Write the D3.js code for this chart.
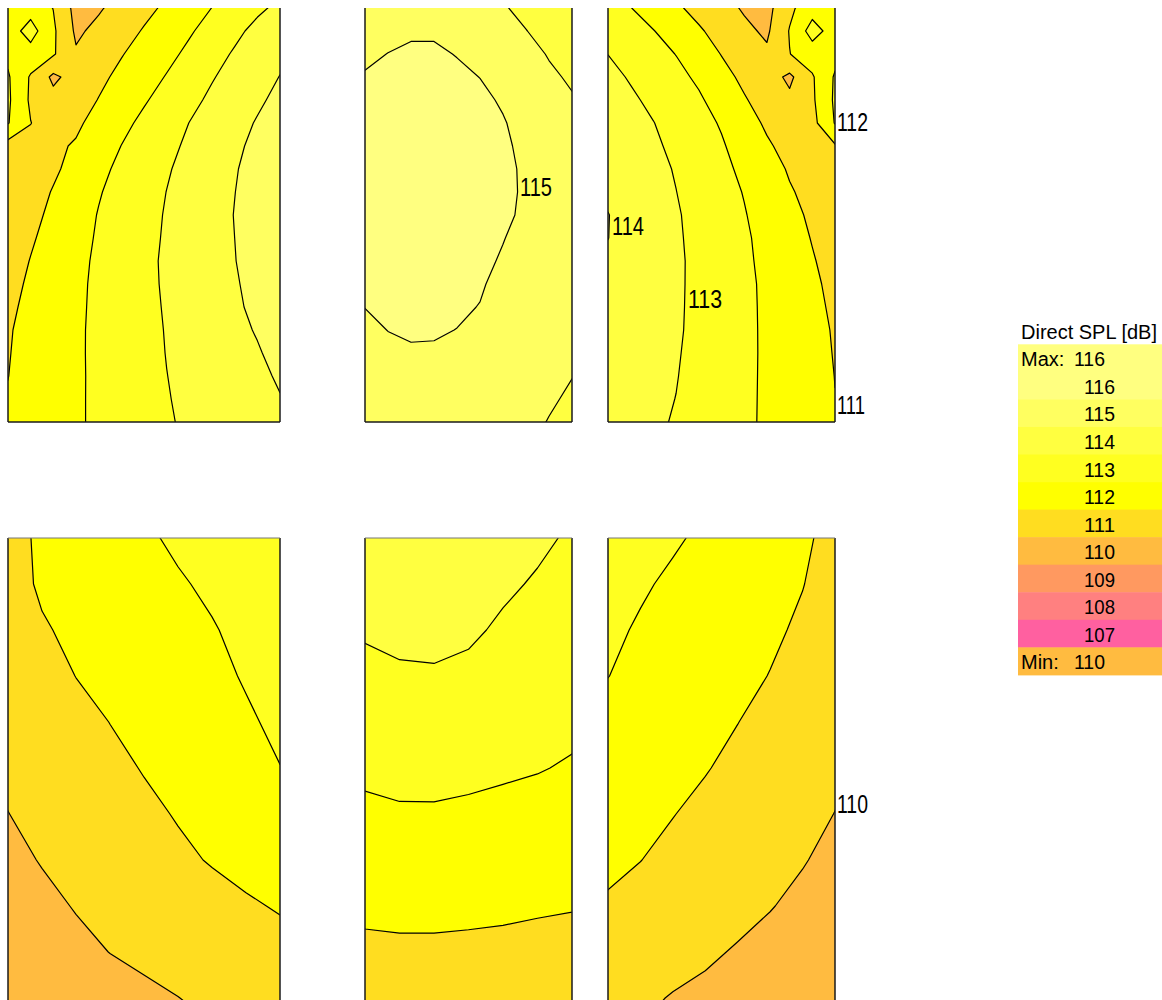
<!DOCTYPE html>
<html><head><meta charset="utf-8">
<script src="https://cdn.jsdelivr.net/npm/d3@7"></script>
<style>html,body{margin:0;padding:0;background:#fff}svg{display:block}</style>
</head><body>
<svg id="chart" width="1162" height="1000"></svg>
<script>
// ---------------- DATA ----------------
// Legend bands (label = upper value of each 1 dB band) and colours
const bandLabels = [116, 115, 114, 113, 112, 111, 110, 109, 108, 107];
const bandColors = ["#FFFF80", "#FFFF60", "#FFFF40", "#FFFF20", "#FFFF00", "#FFDD20", "#FFBB40", "#FF9960", "#FF8080", "#FF60A0"];
const legendTitle = "Direct SPL [dB]";
const maxValue = 116;
const minValue = 110;
const thresholds = [109, 110, 111, 112, 113, 114, 115];

// Contour labels
const contourLabelTexts = ["115", "114", "113", "112", "111", "110"];

// Direct SPL grids (dB), rows top -> bottom, columns left -> right
const gridTopLeft = [
  [111.6, 111.6, 110.98, 109.7, 109.9, 110.33, 110.75, 111.16, 111.59, 112.01, 112.42, 112.83, 113.2],
  [111.5, 112.4, 111.15, 109.85, 110.22, 110.64, 111.07, 111.49, 111.9, 112.34, 112.79, 113.25, 113.55],
  [111.8, 111.6, 111.1, 110.1, 110.55, 110.95, 111.35, 111.76, 112.19, 112.65, 113.1, 113.45, 113.8],
  [112.1, 110.9, 109.8, 110.4, 110.8, 111.21, 111.63, 112.05, 112.5, 112.94, 113.31, 113.67, 114.02],
  [112.15, 110.85, 110.3, 110.6, 111.03, 111.47, 111.91, 112.34, 112.77, 113.16, 113.52, 113.87, 114.2],
  [112.05, 111.02, 110.5, 110.85, 111.3, 111.76, 112.2, 112.6, 113.01, 113.36, 113.72, 114.06, 114.35],
  [110.6, 110.7, 110.85, 111.08, 111.55, 112.01, 112.39, 112.78, 113.15, 113.5, 113.86, 114.18, 114.45],
  [110.4, 110.6, 110.85, 111.31, 111.78, 112.19, 112.56, 112.92, 113.27, 113.61, 113.95, 114.25, 114.55],
  [110.4, 110.6, 111.06, 111.5, 111.94, 112.3, 112.65, 113.01, 113.33, 113.66, 113.99, 114.3, 114.6],
  [110.4, 110.75, 111.2, 111.62, 112.04, 112.38, 112.73, 113.06, 113.38, 113.7, 114.02, 114.33, 114.62],
  [110.45, 110.9, 111.31, 111.71, 112.09, 112.43, 112.76, 113.09, 113.39, 113.69, 114.0, 114.31, 114.62],
  [110.6, 111.03, 111.4, 111.78, 112.14, 112.47, 112.8, 113.12, 113.4, 113.69, 113.98, 114.29, 114.6],
  [110.75, 111.12, 111.47, 111.83, 112.16, 112.48, 112.8, 113.1, 113.38, 113.65, 113.93, 114.23, 114.55],
  [110.85, 111.19, 111.52, 111.85, 112.17, 112.47, 112.78, 113.07, 113.34, 113.61, 113.88, 114.17, 114.5],
  [110.93, 111.25, 111.56, 111.87, 112.18, 112.47, 112.76, 113.04, 113.29, 113.54, 113.79, 114.06, 114.4],
  [110.96, 111.27, 111.57, 111.88, 112.17, 112.45, 112.74, 113.02, 113.24, 113.47, 113.7, 113.93, 114.25],
  [110.99, 111.29, 111.58, 111.88, 112.16, 112.44, 112.71, 112.99, 113.2, 113.42, 113.64, 113.85, 114.08],
  [111.05, 111.32, 111.6, 111.89, 112.15, 112.42, 112.68, 112.96, 113.16, 113.37, 113.58, 113.78, 113.97],
  [111.1, 111.36, 111.63, 111.89, 112.15, 112.41, 112.66, 112.92, 113.13, 113.33, 113.53, 113.72, 113.9]
];
const gridTopMid = [
  [114.55, 114.65, 114.7, 114.68, 114.5, 114.25, 114.04, 113.88, 113.75, 113.6],
  [114.7, 114.82, 114.9, 114.9, 114.75, 114.5, 114.25, 114.01, 113.85, 113.72],
  [114.88, 115.01, 115.12, 115.12, 114.97, 114.7, 114.45, 114.2, 113.96, 113.8],
  [115.05, 115.2, 115.3, 115.28, 115.15, 114.99, 114.72, 114.45, 114.1, 113.92],
  [115.3, 115.45, 115.52, 115.48, 115.35, 115.15, 114.92, 114.6, 114.3, 114.05],
  [115.45, 115.6, 115.66, 115.62, 115.5, 115.3, 115.05, 114.75, 114.45, 114.2],
  [115.55, 115.7, 115.76, 115.72, 115.6, 115.4, 115.12, 114.83, 114.55, 114.3],
  [115.6, 115.76, 115.82, 115.78, 115.66, 115.46, 115.18, 114.88, 114.6, 114.38],
  [115.6, 115.77, 115.83, 115.8, 115.68, 115.48, 115.19, 114.89, 114.62, 114.4],
  [115.55, 115.73, 115.8, 115.76, 115.63, 115.43, 115.15, 114.86, 114.6, 114.38],
  [115.45, 115.63, 115.7, 115.66, 115.52, 115.3, 115.03, 114.74, 114.5, 114.32],
  [115.3, 115.5, 115.57, 115.52, 115.38, 115.18, 114.92, 114.68, 114.45, 114.25],
  [115.15, 115.33, 115.4, 115.35, 115.2, 115.07, 114.8, 114.58, 114.38, 114.2],
  [115.01, 115.17, 115.24, 115.2, 115.1, 114.98, 114.75, 114.55, 114.33, 114.15],
  [114.85, 115.01, 115.08, 115.07, 114.99, 114.85, 114.66, 114.47, 114.28, 114.1],
  [114.7, 114.85, 114.93, 114.92, 114.85, 114.72, 114.55, 114.38, 114.2, 114.05],
  [114.6, 114.72, 114.8, 114.79, 114.72, 114.6, 114.45, 114.3, 114.14, 114.01],
  [114.5, 114.62, 114.7, 114.69, 114.62, 114.5, 114.36, 114.21, 114.06, 113.93],
  [114.4, 114.52, 114.6, 114.59, 114.52, 114.42, 114.28, 114.13, 113.98, 113.85]
];
const gridTopRight = [
  [112.75, 112.02, 111.58, 111.14, 110.72, 110.32, 109.9, 109.7, 110.8, 111.6, 111.5],
  [112.88, 112.45, 112.03, 111.57, 111.11, 110.66, 110.2, 109.85, 111.05, 112.4, 111.55],
  [112.99, 112.66, 112.32, 111.98, 111.48, 110.97, 110.55, 110.15, 110.98, 111.5, 111.7],
  [113.25, 112.92, 112.58, 112.24, 111.85, 111.3, 110.8, 110.45, 109.8, 110.9, 112.1],
  [113.45, 113.14, 112.81, 112.46, 112.12, 111.63, 111.08, 110.6, 110.2, 110.85, 112.15],
  [113.6, 113.31, 113.02, 112.66, 112.31, 111.92, 111.39, 110.86, 110.45, 110.7, 112.05],
  [113.72, 113.43, 113.14, 112.81, 112.45, 112.09, 111.62, 111.12, 110.7, 110.7, 110.9],
  [113.8, 113.52, 113.24, 112.94, 112.58, 112.22, 111.81, 111.34, 110.92, 110.68, 110.45],
  [113.86, 113.58, 113.29, 113.01, 112.67, 112.32, 111.96, 111.51, 111.07, 110.77, 110.5],
  [114.02, 113.71, 113.4, 113.08, 112.74, 112.4, 112.05, 111.65, 111.23, 110.86, 110.55],
  [114.01, 113.7, 113.4, 113.1, 112.79, 112.45, 112.12, 111.75, 111.35, 110.96, 110.6],
  [113.88, 113.63, 113.37, 113.12, 112.82, 112.49, 112.15, 111.8, 111.43, 111.06, 110.7],
  [113.85, 113.6, 113.36, 113.11, 112.83, 112.51, 112.18, 111.85, 111.49, 111.14, 110.8],
  [113.8, 113.57, 113.34, 113.1, 112.83, 112.51, 112.19, 111.86, 111.53, 111.19, 110.87],
  [113.75, 113.54, 113.32, 113.09, 112.82, 112.51, 112.19, 111.87, 111.56, 111.24, 110.93],
  [113.68, 113.47, 113.26, 113.06, 112.79, 112.49, 112.18, 111.88, 111.57, 111.26, 110.96],
  [113.6, 113.4, 113.2, 113.03, 112.75, 112.46, 112.17, 111.88, 111.58, 111.27, 110.99],
  [113.5, 113.33, 113.16, 112.99, 112.71, 112.43, 112.16, 111.88, 111.6, 111.3, 111.01],
  [113.4, 113.25, 113.1, 112.95, 112.69, 112.42, 112.15, 111.88, 111.6, 111.33, 111.06]
];
const gridBottomLeft = [
  [110.75, 111.12, 111.37, 111.64, 111.91, 112.1, 112.22, 112.35, 112.5],
  [110.7, 111.1, 111.3, 111.5, 111.72, 111.94, 112.1, 112.26, 112.42],
  [110.5, 110.93, 111.15, 111.35, 111.55, 111.76, 111.96, 112.15, 112.33],
  [110.35, 110.68, 111.01, 111.22, 111.43, 111.64, 111.85, 112.05, 112.22],
  [110.25, 110.5, 110.75, 111.01, 111.24, 111.47, 111.69, 111.92, 112.12],
  [110.15, 110.37, 110.59, 110.81, 111.04, 111.28, 111.52, 111.76, 111.99],
  [109.99, 110.2, 110.41, 110.63, 110.84, 111.05, 111.28, 111.5, 111.72],
  [109.8, 110.04, 110.25, 110.45, 110.66, 110.86, 111.05, 111.22, 111.4],
  [109.6, 109.82, 110.04, 110.21, 110.39, 110.56, 110.74, 110.91, 111.06],
  [109.45, 109.63, 109.82, 110.01, 110.15, 110.3, 110.45, 110.6, 110.75],
  [109.3, 109.44, 109.57, 109.71, 109.85, 109.99, 110.16, 110.33, 110.5],
  [109.2, 109.3, 109.4, 109.5, 109.6, 109.73, 109.87, 110.05, 110.3]
];
const gridBottomMid = [
  [113.7, 113.82, 113.83, 113.75, 113.4, 113.15, 112.9],
  [113.4, 113.52, 113.55, 113.44, 113.13, 112.92, 112.7],
  [113.09, 113.2, 113.24, 113.13, 112.88, 112.7, 112.5],
  [112.78, 112.89, 112.91, 112.82, 112.62, 112.48, 112.33],
  [112.47, 112.57, 112.58, 112.5, 112.37, 112.26, 112.16],
  [112.16, 112.24, 112.25, 112.19, 112.11, 112.04, 111.93],
  [111.84, 111.91, 111.91, 111.86, 111.8, 111.73, 111.64],
  [111.5, 111.55, 111.56, 111.51, 111.47, 111.41, 111.34],
  [111.16, 111.2, 111.2, 111.16, 111.13, 111.08, 111.04],
  [110.84, 110.86, 110.86, 110.85, 110.82, 110.78, 110.74],
  [110.7, 110.72, 110.72, 110.7, 110.68, 110.65, 110.62],
  [110.58, 110.6, 110.6, 110.58, 110.56, 110.53, 110.5]
];
const gridBottomRight = [
  [112.45, 112.27, 112.09, 111.87, 111.61, 111.35, 111.08, 110.85],
  [112.3, 112.09, 111.88, 111.66, 111.45, 111.23, 111.02, 110.7],
  [112.15, 111.92, 111.72, 111.52, 111.32, 111.12, 110.89, 110.56],
  [112.01, 111.8, 111.59, 111.39, 111.19, 110.98, 110.7, 110.42],
  [111.78, 111.6, 111.42, 111.2, 111.01, 110.77, 110.52, 110.28],
  [111.56, 111.39, 111.21, 111.04, 110.82, 110.62, 110.38, 110.14],
  [111.34, 111.18, 111.02, 110.82, 110.61, 110.41, 110.2, 109.99],
  [111.13, 111.01, 110.81, 110.62, 110.43, 110.23, 110.04, 109.82],
  [110.93, 110.75, 110.57, 110.39, 110.21, 110.03, 109.84, 109.65],
  [110.72, 110.52, 110.32, 110.11, 109.94, 109.79, 109.64, 109.5],
  [110.45, 110.16, 109.95, 109.84, 109.72, 109.61, 109.49, 109.38],
  [110.1, 109.9, 109.78, 109.66, 109.55, 109.45, 109.36, 109.28]
];

// ---------------- LAYOUT ----------------
const layout = {
  A: {x0: 8, x1: 280, y0: 8, y1: 422, gy1: 422, top: false},
  B: {x0: 365, x1: 572, y0: 8, y1: 422, gy1: 422, top: false},
  C: {x0: 608, x1: 835, y0: 8, y1: 422, gy1: 422, top: false},
  D: {x0: 8, x1: 280, y0: 538, y1: 1044, gy1: 1044, top: true},
  E: {x0: 365, x1: 572, y0: 538, y1: 1044, gy1: 1044, top: true},
  F: {x0: 608, x1: 835, y0: 538, y1: 1044, gy1: 1044, top: true}
};
const labelLayout = [
  {x: 520, y: 196, w: 32},
  {x: 612, y: 234.5, w: 32},
  {x: 688, y: 308, w: 34},
  {x: 837, y: 131, w: 31},
  {x: 837, y: 414, w: 28},
  {x: 837, y: 813, w: 31}
];

const panels = [
  {id: "A", grid: gridTopLeft},
  {id: "B", grid: gridTopMid},
  {id: "C", grid: gridTopRight},
  {id: "D", grid: gridBottomLeft},
  {id: "E", grid: gridBottomMid},
  {id: "F", grid: gridBottomRight}
];

// ---------------- DRAW ----------------
const svg = d3.select("#chart");
const defs = svg.append("defs");
const color = d3.scaleOrdinal().domain(bandLabels).range(bandColors);
const FONT = "'Liberation Sans', Arial, sans-serif";

panels.forEach(p => {
  const L = layout[p.id];
  const ny = p.grid.length, nx = p.grid[0].length;
  const values = p.grid.flat();
  const sx = d3.scaleLinear().domain([0.5, nx - 0.5]).range([L.x0, L.x1]);
  const sy = d3.scaleLinear().domain([0.5, ny - 0.5]).range([L.y0, L.gy1]);
  const path = d3.geoPath(d3.geoTransform({
    point: function(x, y) { this.stream.point(sx(x), sy(y)); }
  }));
  const contours = d3.contours().size([nx, ny]).thresholds(thresholds)(values);

  const clipId = "clip" + p.id;
  defs.append("clipPath").attr("id", clipId).append("rect")
    .attr("x", L.x0).attr("y", L.y0)
    .attr("width", L.x1 - L.x0).attr("height", L.y1 - L.y0);

  const g = svg.append("g").attr("clip-path", `url(#${clipId})`);
  g.selectAll("path.band").data(contours).join("path")
    .attr("class", "band")
    .attr("d", path)
    .attr("fill", d => color(d.value + 1))
    .attr("stroke", "none");
  g.selectAll("path.iso").data(contours.filter(d => d.value > thresholds[0])).join("path")
    .attr("class", "iso")
    .attr("d", path)
    .attr("fill", "none")
    .attr("stroke", "#000")
    .attr("stroke-width", 1.2)
    .attr("stroke-linejoin", "round");

  // borders
  const b = svg.append("g").attr("fill", "none");
  b.append("line").attr("x1", L.x0).attr("x2", L.x0).attr("y1", L.y0).attr("y2", Math.min(L.y1, 1000))
    .attr("stroke", "#1a1a1a").attr("stroke-width", 1.5);
  b.append("line").attr("x1", L.x1).attr("x2", L.x1).attr("y1", L.y0).attr("y2", Math.min(L.y1, 1000))
    .attr("stroke", "#1a1a1a").attr("stroke-width", 1.5);
  if (L.top) {
    b.append("line").attr("x1", L.x0).attr("x2", L.x1).attr("y1", L.y0).attr("y2", L.y0)
      .attr("stroke", "#777").attr("stroke-width", 1);
  } else {
    b.append("line").attr("x1", L.x0).attr("x2", L.x1).attr("y1", L.y1).attr("y2", L.y1)
      .attr("stroke", "#1a1a1a").attr("stroke-width", 1.5);
  }
});

// contour labels
svg.append("g").selectAll("text").data(contourLabelTexts).join("text")
  .attr("x", (d, i) => labelLayout[i].x)
  .attr("y", (d, i) => labelLayout[i].y)
  .attr("textLength", (d, i) => labelLayout[i].w)
  .attr("lengthAdjust", "spacingAndGlyphs")
  .attr("font-family", FONT)
  .attr("font-size", 25)
  .attr("fill", "#000")
  .text(d => d);

// legend
const legX = 1018, legTop = 344.3, rowH = 27.55;
const legRows = [{lab: "Max:", val: maxValue, col: color(maxValue)}]
  .concat(bandLabels.map(v => ({lab: "", val: v, col: color(v)})))
  .concat([{lab: "Min:", val: minValue, col: color(minValue)}]);
const leg = svg.append("g");
leg.append("text").attr("x", 1021).attr("y", 338.5)
  .attr("font-family", FONT).attr("font-size", 20).attr("fill", "#000")
  .text(legendTitle);
const rows = leg.selectAll("g.row").data(legRows).join("g").attr("class", "row")
  .attr("transform", (d, i) => `translate(0,${legTop + i * rowH})`);
rows.append("rect").attr("x", legX).attr("y", 0).attr("width", 1162 - legX).attr("height", rowH + 0.5)
  .attr("fill", d => d.col);
rows.append("text").attr("x", 1021).attr("y", 22)
  .attr("font-family", FONT).attr("font-size", 20).attr("fill", "#000")
  .text(d => d.lab);
rows.append("text").attr("x", d => d.lab ? 1074 : 1084).attr("y", 22)
  .attr("textLength", 31).attr("lengthAdjust", "spacingAndGlyphs")
  .attr("font-family", FONT).attr("font-size", 20).attr("fill", "#000")
  .text(d => d.val);
</script>
</body></html>
